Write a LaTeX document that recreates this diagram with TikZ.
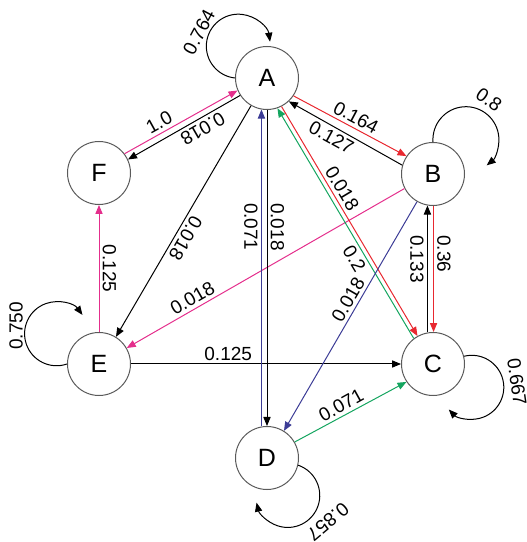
\documentclass[tikz,border=0pt]{standalone}
\usepackage{fontspec}
\setmainfont{Liberation Sans}
\usetikzlibrary{arrows.meta}
\definecolor{pinkline}{RGB}{228,46,140}
\definecolor{redline}{RGB}{232,40,48}
\definecolor{greenline}{RGB}{20,165,95}
\definecolor{blueline}{RGB}{60,60,150}
\definecolor{ringgray}{RGB}{90,90,90}

\begin{document}
\begin{tikzpicture}[x=0.5pt, y=0.5pt,
  state/.style={circle, draw=ringgray, line width=0.5pt, minimum size=31.5pt,
    inner sep=0pt, font=\fontsize{12.5}{14}\selectfont},
  lbl/.style={font=\fontsize{9.5}{11}\selectfont, text=black, inner sep=1.6pt},
  edge/.style={line width=0.5pt, -{Triangle[length=4.5pt,width=3.6pt]}}]
  \useasboundingbox (0,0) rectangle (526,542);
  % states
  \node[state] (A) at (267,464) {A};
  \node[state] (B) at (433,368) {B};
  \node[state] (C) at (433,178) {C};
  \node[state] (D) at (267,84) {D};
  \node[state] (E) at (99,178) {E};
  \node[state] (F) at (99,369) {F};
  % self loops
  \draw[edge] (A.180) arc[start angle=264, end angle=8, radius=32];
  \node[lbl, rotate=62] (lA) at (199,510) {0.764};
  \draw[edge] (B.90) arc[start angle=184, end angle=-51, radius=33];
  \node[lbl, rotate=-35] (lB) at (489,442) {0.8};
  \draw[edge] (C.14) arc[start angle=104, end angle=-136, radius=32];
  \node[lbl, rotate=-82] (lC) at (517,160) {0.667};
  \draw[edge] (D.-13) arc[start angle=71, end angle=-167, radius=32];
  \node[lbl, rotate=220] (lD) at (328,20) {0.857};
  \draw[edge] (E.180) arc[start angle=289, end angle=36, radius=32];
  \node[lbl, rotate=90] (lE) at (16,216) {0.750};
  % transitions
  \draw[edge, pinkline] (F.37) -- (A.203)
    node[lbl, pos=0.35, rotate=29, anchor=south] {1.0};
  \draw[edge] (A.213) -- (F.25)
    node[lbl, pos=0.38, rotate=210, anchor=south] {0.018};
  \draw[edge] (A.240) -- (E.58)
    node[lbl, pos=0.55, rotate=240, anchor=south] {0.018};
  \draw[edge, pinkline] (E.90) -- (F.270)
    node[lbl, pos=0.5, rotate=-90, anchor=south] {0.125};
  \draw[edge] (E.0) -- (C.180)
    node[lbl, pos=0.36, anchor=south] {0.125};
  \draw[edge, pinkline] (B.207) -- (E.30)
    node[lbl, pos=0.745, rotate=30, anchor=south] {0.018};
  \draw[edge, redline] (A.326) -- (B.146)
    node[lbl, pos=0.51, rotate=-28, anchor=south] {0.164};
  \draw[edge] (B.164) -- (A.313)
    node[lbl, pos=0.58, rotate=-29, anchor=north] {0.127};
  \draw[edge, redline] (A.297) -- (C.119)
    node[lbl, pos=0.38, rotate=-59, anchor=south] {0.018};
  \draw[edge, greenline] (C.127) -- (A.289)
    node[lbl, pos=0.37, rotate=-59, anchor=north] {0.2};
  \draw[edge, blueline] (B.240) -- (D.58)
    node[lbl, pos=0.45, rotate=60, anchor=south] {0.018};
  \draw[edge, redline] (B.271) -- (C.89)
    node[lbl, pos=0.38, rotate=-90, anchor=south] {0.36};
  \draw[edge] (C.100) -- (B.260)
    node[lbl, pos=0.58, rotate=-90, anchor=north] {0.133};
  \draw[edge, blueline] (D.100) -- (A.260)
    node[lbl, pos=0.63, rotate=-90, anchor=north] {0.071};
  \draw[edge] (A.270) -- (D.90)
    node[lbl, pos=0.37, rotate=-90, anchor=south] {0.018};
  \draw[edge, greenline] (D.30) -- (C.214)
    node[lbl, pos=0.46, rotate=29, anchor=south] {0.071};
\end{tikzpicture}
\end{document}
